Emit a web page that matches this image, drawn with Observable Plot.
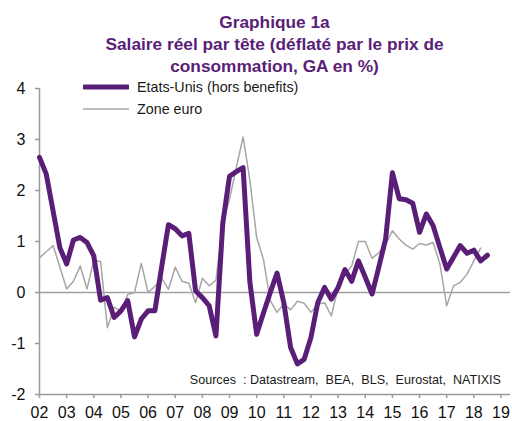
<!DOCTYPE html>
<html><head><meta charset="utf-8">
<script src="https://cdn.jsdelivr.net/npm/d3@7"></script>
<script src="https://cdn.jsdelivr.net/npm/@observablehq/plot@0.6"></script>
<style>
body{margin:0;background:#fff;font-family:"Liberation Sans",Arial,sans-serif;}
#wrap{position:relative;width:512px;height:421px;overflow:hidden;}
#title{position:absolute;left:39px;top:11px;width:471px;text-align:center;font-weight:bold;font-size:17.3px;line-height:22px;color:#5a1e78;}
#chart{position:absolute;left:0;top:78px;}
.leg{position:absolute;left:83px;font-size:14.3px;color:#1a1a1a;}
.leg svg{position:absolute;left:0;}
.leg span{position:absolute;left:54px;white-space:nowrap;}
#src{position:absolute;right:11px;top:373px;font-size:12.6px;color:#1a1a1a;white-space:nowrap;}
</style></head><body>
<div id="wrap">
  <div id="title">Graphique 1a<br>Salaire réel par tête (déflaté par le prix de<br>consommation, GA en %)</div>
  <div id="chart"></div>
  <div class="leg" id="leg1" style="top:79px"><svg width="46" height="16"><line x1="1" x2="45" y1="8" y2="8" stroke="#5a1e78" stroke-width="5" stroke-linecap="round"/></svg><span style="top:0px">Etats-Unis (hors benefits)</span></div>
  <div class="leg" id="leg2" style="top:101px"><svg width="46" height="16"><line x1="0" x2="46" y1="8" y2="8" stroke="#a6a6a6" stroke-width="1.5"/></svg><span style="top:0px">Zone euro</span></div>
  <div id="src">Sources&nbsp; : Datastream,&nbsp; BEA,&nbsp; BLS,&nbsp; Eurostat,&nbsp; NATIXIS</div>
</div>
<script>
const startYear = 2002;
const seriesNames = ["Etats-Unis (hors benefits)", "Zone euro"];
const usValues = [2.65,2.32,1.6,0.88,0.56,1.03,1.08,0.98,0.72,-0.15,-0.1,-0.49,-0.36,-0.16,-0.87,-0.52,-0.36,-0.36,0.5,1.33,1.25,1.11,1.16,0.03,-0.1,-0.26,-0.85,1.35,2.28,2.37,2.45,0.2,-0.82,-0.4,0.0,0.38,-0.2,-1.08,-1.4,-1.31,-0.88,-0.2,0.1,-0.13,0.1,0.45,0.22,0.62,0.3,-0.03,0.5,1.05,2.35,1.84,1.82,1.75,1.18,1.54,1.31,0.88,0.46,0.69,0.92,0.77,0.83,0.62,0.73];
const euroValues = [0.68,0.8,0.92,0.5,0.07,0.22,0.52,0.07,0.63,0.61,-0.69,-0.29,-0.36,-0.04,0.0,0.57,0.0,0.12,0.28,0.06,0.5,0.22,0.18,-0.2,0.28,0.13,0.24,1.36,1.83,2.45,3.05,2.2,1.08,0.65,-0.16,-0.39,-0.22,-0.34,-0.17,-0.21,-0.39,-0.23,-0.2,-0.46,0.1,0.36,0.52,1.0,1.0,0.67,0.78,0.95,1.21,1.05,0.93,0.85,0.96,0.93,0.98,0.56,-0.26,0.13,0.2,0.36,0.62,0.87];
const yTicks = [-2,-1,0,1,2,3,4];
const xTicks = d3.range(2002, 2020);
const xTickLabels = ["02","03","04","05","06","07","08","09","10","11","12","13","14","15","16","17","18","19"];

const us = usValues.map((v,i)=>({t:startYear+i/4, v}));
const eu = euroValues.map((v,i)=>({t:startYear+i/4, v}));

const chart = Plot.plot({
  width: 512, height: 343,
  marginTop: 10, marginBottom: 27, marginLeft: 39, marginRight: 2,
  style: {fontFamily: '"Liberation Sans", Arial, sans-serif', fontSize: "16px", color: "#111", background: "#fff"},
  x: {domain: [2002, 2019.35], axis: null},
  y: {domain: [-2, 4], axis: null},
  marks: [
    Plot.ruleY([0], {stroke: "#a0a0a0", strokeWidth: 1.3}),
    Plot.ruleY([-2], {stroke: "#9a9a9a", strokeWidth: 1.5}),
    Plot.ruleX([2002], {y1: -2, y2: 4, stroke: "#9a9a9a", strokeWidth: 1.5}),
    Plot.axisX({ticks: xTicks, tickFormat: (d,i)=>xTickLabels[i], label: null, tickSize: 4, tickPadding: 8, stroke: "#9a9a9a", strokeWidth: 1.5, fontSize: 16, fill: "#111"}),
    Plot.axisY({ticks: yTicks, tickFormat: d=>String(d), label: null, tickSize: 4, tickPadding: 10, stroke: "#9a9a9a", strokeWidth: 1.5, fontSize: 16, fill: "#111"}),
    Plot.line(eu, {x: "t", y: "v", stroke: "#a6a6a6", strokeWidth: 1.5}),
    Plot.line(us, {x: "t", y: "v", stroke: "#5a1e78", strokeWidth: 5, strokeLinejoin: "round"})
  ]
});
document.getElementById("chart").appendChild(chart);
</script>
</body></html>
